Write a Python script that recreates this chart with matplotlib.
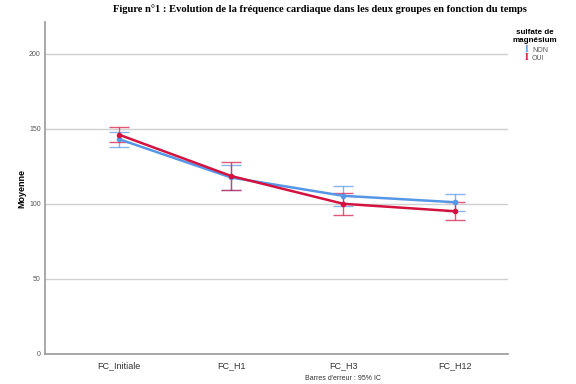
import matplotlib.pyplot as plt
import numpy as np

plt.rcParams['font.family'] = ['Liberation Sans', 'DejaVu Sans']

# valeurs
temps = ["FC_Initiale", "FC_H1", "FC_H3", "FC_H12"]
non_moy = [143, 117.5, 105.3, 101]
non_bas = [138, 109, 98.7, 95]
non_haut = [148, 126, 111.5, 106.7]
oui_moy = [146, 118.5, 100, 95]
oui_bas = [141, 109, 92.7, 89]
oui_haut = [151, 128, 107, 101]
yticks = [0, 50, 100, 150, 200]

bleu = "#5597e6"
rouge = "#d4123f"

fig = plt.figure(figsize=(5.76, 3.84), dpi=100)
ax = fig.add_axes([45/576, 1 - 354/384, (508 - 45)/576, (354 - 22)/384])

x = np.arange(len(temps))
for moy, bas, haut, col in [(non_moy, non_bas, non_haut, bleu),
                            (oui_moy, oui_bas, oui_haut, rouge)]:
    moy = np.array(moy)
    err = [moy - np.array(bas), np.array(haut) - moy]
    ax.errorbar(x, moy, yerr=err, fmt='none', ecolor=col, elinewidth=1,
                capsize=7.5, capthick=1, alpha=0.7, zorder=3)
    ax.plot(x, moy, color=col, lw=1.8, marker='o', ms=3, zorder=4)

ax.set_xlim(-0.66, 3.47)
ax.set_ylim(0, 221)
ax.set_yticks(yticks)
ax.set_xticks(x)
ax.set_xticklabels(temps, fontsize=6.5, color="#333333")
ax.tick_params(axis='y', labelsize=5, colors="#555555", length=0, pad=3)
ax.tick_params(axis='x', length=0, pad=5)
ax.grid(axis='y', color="#d0d0d0", lw=1)
ax.set_axisbelow(True)
for s in ['top', 'right']:
    ax.spines[s].set_visible(False)
for s in ['left', 'bottom']:
    ax.spines[s].set_color("#999999")
    ax.spines[s].set_linewidth(1.2)
ax.set_ylabel("Moyenne", fontsize=6.5, fontweight='bold')
ax.yaxis.set_label_coords(-(45 - 26)/463, 0.5)

fig.text(0.555, 0.975, "Figure n°1 : Evolution de la fréquence cardiaque dans les deux groupes en fonction du temps",
         ha='center', va='center', fontsize=7.6, fontweight='bold', family='Liberation Serif')
fig.text(343/576, 1 - 378/384, "Barres d'erreur : 95% IC", ha='center', va='center', fontsize=5, color="#333333")

# légende
fig.text(535/576, 1 - 36/384, "sulfate de\nmagnésium", ha='center', va='center',
         fontsize=5.8, fontweight='bold', linespacing=1.2)
fig.text(525/576, 1 - 50/384, "I", color=bleu, fontsize=7, fontweight='bold',
         family='Liberation Serif', va='center')
fig.text(532/576, 1 - 50/384, "NON", color="#555555", fontsize=5, va='center')
fig.text(525/576, 1 - 58/384, "I", color=rouge, fontsize=7, fontweight='bold',
         family='Liberation Serif', va='center')
fig.text(532/576, 1 - 58/384, "OUI", color="#555555", fontsize=5, va='center')

fig.savefig("out.png", dpi=100)
